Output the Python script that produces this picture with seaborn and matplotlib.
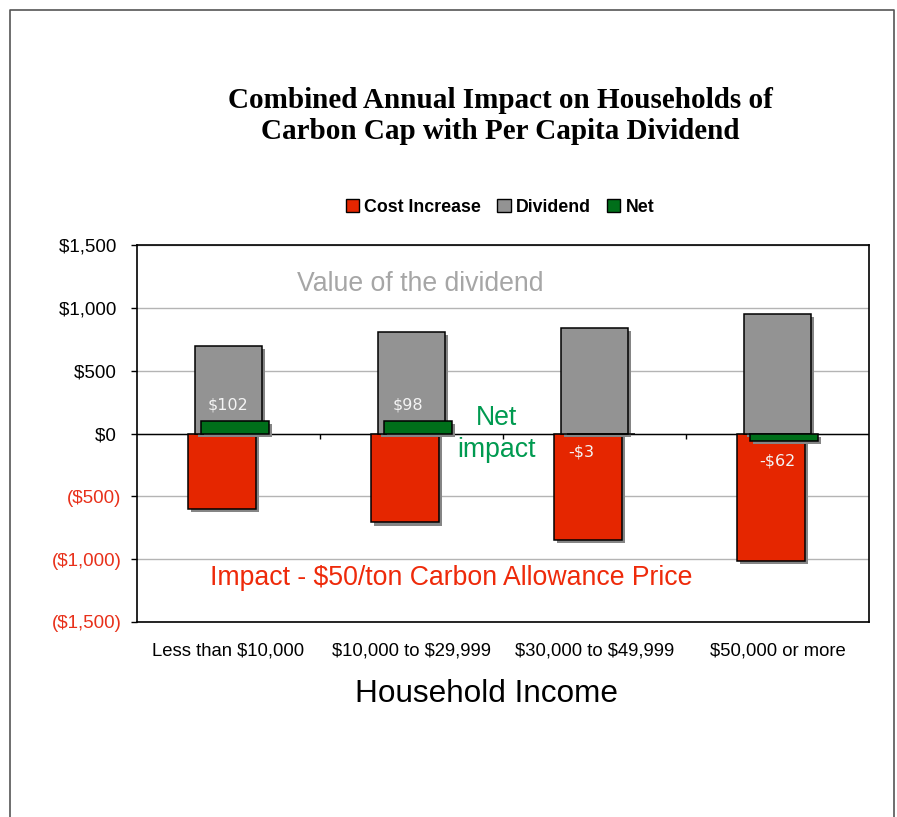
import pandas as pd
import numpy as np
import seaborn as sns
import matplotlib.pyplot as plt
import matplotlib.patheffects as pe
from matplotlib.patches import Patch
from matplotlib.ticker import FuncFormatter

# data
income = ['Less than $10,000', '$10,000 to $29,999', '$30,000 to $49,999', '$50,000 or more']
cost_increase = [-598, -708, -846, -1012]
dividend = [700, 806, 843, 950]
net = [102, 98, -3, -62]
series = ['Cost Increase', 'Dividend', 'Net']
colors = ['#e52600', '#939393', '#006f1a']

df = pd.DataFrame({
    'income': income * 3,
    'series': np.repeat(series, len(income)),
    'value': cost_increase + dividend + net,
})

sns.set_style('white')
plt.rcParams['font.family'] = ['Liberation Sans', 'DejaVu Sans']
plt.rcParams['text.parse_math'] = False
for k in ['text.color', 'axes.labelcolor', 'xtick.color', 'ytick.color']:
    plt.rcParams[k] = 'black'

fig = plt.figure(figsize=(8.97, 8.17), dpi=100)
ax = fig.add_axes([0.1527, 0.2387, 0.8161, 0.4614])

ax.yaxis.grid(True, color='#b4b4b4', lw=1)
ax.set_axisbelow(True)
ax.axhline(0, color='black', lw=1, zorder=0.8)

sns.barplot(data=df, x='income', y='value', hue='series', hue_order=series,
            palette=colors, saturation=1, dodge=False, width=0.37, errorbar=None,
            edgecolor='black', linewidth=1.1, legend=False, ax=ax)

# small overlap shift like the excel chart + drop shadow
shadow = [pe.SimplePatchShadow(offset=(2.2, -2.2), shadow_rgbFace='#858585', alpha=1), pe.Normal()]
for cont, off in zip(ax.containers, [-0.036, 0, 0.036]):
    for p in cont:
        p.set_x(p.get_x() + off)
        p.set_path_effects(shadow)

# little category ticks on the zero line
ax.vlines([0.5, 1.5, 2.5], -45, 0, color='black', lw=1)

ax.set_xlim(-0.5, 3.5)
ax.set_ylim(-1500, 1500)
ax.set_yticks(range(-1500, 1501, 500))


def money(v, pos):
    if v < 0:
        return '(${:,.0f})'.format(-v)
    return '${:,.0f} '.format(v)


ax.yaxis.set_major_formatter(FuncFormatter(money))
ax.tick_params(axis='y', left=True, length=4.3, width=1, color='black', pad=7, labelsize=13.5)
ax.tick_params(axis='x', bottom=False, pad=11, labelsize=13.3)
for lab, v in zip(ax.get_yticklabels(), ax.get_yticks()):
    lab.set_color('#e8301a' if v < 0 else 'black')

for s in ax.spines.values():
    s.set_visible(True)
    s.set_color('black')
    s.set_linewidth(1.2)

ax.set_xlabel('Household Income', fontsize=22.7)
ax.xaxis.set_label_coords(0.477, -0.15)
ax.set_ylabel('')

# net value labels
lab_dx = [0.0, -0.02, -0.07, 0.0]
lab_y = [230, 230, -150, -220]
for i, v in enumerate(net):
    txt = '${}'.format(v) if v >= 0 else '-${}'.format(-v)
    ax.text(i + lab_dx[i], lab_y[i], txt, color='#f4f4f4', fontsize=11.5,
            family='DejaVu Sans', ha='center', va='center', zorder=5)

ax.text(1.05, 1193, 'Value of the dividend', color='#a6a6a6', fontsize=19.2,
        ha='center', va='center')
ax.text(1.462, -5, 'Net\nimpact', color='#009a50', fontsize=19.2,
        ha='center', va='center', linespacing=1.3, zorder=5)
ax.text(1.216, -1150, 'Impact - $50/ton Carbon Allowance Price', color='#ee2a0a',
        fontsize=19.2, ha='center', va='center')

fig.text(0.5575, 0.858, 'Combined Annual Impact on Households of\nCarbon Cap with Per Capita Dividend',
         family='Liberation Serif', fontweight='bold', fontsize=21,
         ha='center', va='center', linespacing=1.22)

handles = [Patch(facecolor=c, edgecolor='black', lw=1) for c in colors]
fig.legend(handles, series, loc='center', bbox_to_anchor=(0.5575, 1 - 207 / 817),
           ncol=3, frameon=False, prop={'weight': 'bold', 'size': 12.8},
           handlelength=0.75, handleheight=0.75, handletextpad=0.3, columnspacing=0.9)

# outer frame (no bottom edge visible)
fig.add_artist(plt.Line2D([0.0111, 0.0111, 0.9967, 0.9967], [0, 0.9878, 0.9878, 0],
                          transform=fig.transFigure, color='#555555', lw=1.2))

fig.savefig('out.png', dpi=100)
